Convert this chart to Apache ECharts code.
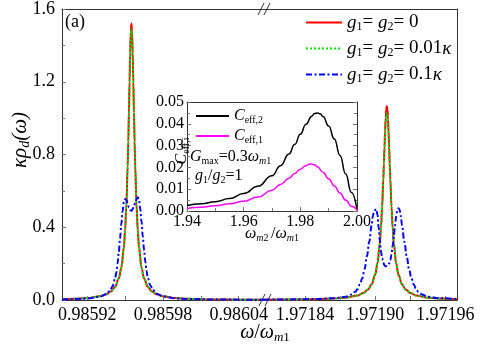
<!DOCTYPE html>
<html><head><meta charset="utf-8">
<script src="https://cdn.jsdelivr.net/npm/echarts@6/dist/echarts.min.js"></script>
<style>html,body{margin:0;padding:0;background:#fff}#c{width:490px;height:354px}</style>
</head><body><div id="c"></div>
<script>
// ---- main chart, left segment (around 0.98595)
const leftX = [0.985900,0.985910,0.985920,0.985930,0.985935,0.985939,0.985942,0.985945,0.985947,0.985949,0.985950,0.985951,0.985952,0.9859525,0.985953,0.9859535,0.985954,0.9859545,0.985955,0.9859555,0.985956,0.9859565,0.985957,0.9859575,0.985958,0.985959,0.985960,0.985961,0.985963,0.985965,0.985968,0.985971,0.985975,0.985980,0.985990,0.986000,0.986020,0.986040,0.986060];
const leftRed = [0.0042,0.0063,0.0104,0.0202,0.0313,0.0484,0.0720,0.1179,0.1765,0.288,0.383,0.524,0.734,0.872,1.030,1.199,1.358,1.476,1.520,1.476,1.358,1.199,1.030,0.872,0.734,0.524,0.383,0.288,0.1765,0.1179,0.0720,0.0484,0.0313,0.0202,0.0104,0.0063,0.0030,0.0018,0.0012];
const leftGreen = [0.0042,0.0063,0.0104,0.0202,0.0313,0.0484,0.0720,0.1179,0.1765,0.288,0.383,0.522,0.730,0.866,1.020,1.182,1.335,1.448,1.490,1.448,1.335,1.182,1.020,0.866,0.730,0.522,0.383,0.288,0.1765,0.1179,0.0720,0.0484,0.0313,0.0202,0.0104,0.0063,0.0030,0.0018,0.0012];
const leftBlueX = [0.985900,0.985910,0.985920,0.985930,0.985935,0.985938,0.985940,0.985942,0.985943,0.985944,0.985945,0.985946,0.985947,0.985948,0.985949,0.985950,0.985951,0.985952,0.985953,0.985954,0.985955,0.985956,0.985957,0.985958,0.985959,0.985960,0.985961,0.985962,0.985963,0.985964,0.985965,0.985966,0.985967,0.985968,0.985970,0.985972,0.985975,0.985980,0.985990,0.986000,0.986020,0.986040,0.986060];
const leftBlue = [0.003,0.005,0.008,0.018,0.032,0.05,0.075,0.115,0.15,0.2,0.265,0.34,0.42,0.49,0.54,0.555,0.55,0.53,0.51,0.495,0.49,0.5,0.515,0.535,0.555,0.565,0.55,0.5,0.43,0.35,0.275,0.21,0.16,0.12,0.08,0.055,0.035,0.02,0.009,0.006,0.003,0.002,0.0015];

// ---- main chart, right segment (around 1.97191)
const rightX = [1.971805,1.971825,1.971845,1.971865,1.971875,1.971885,1.971890,1.971894,1.971897,1.971900,1.971902,1.971904,1.971905,1.971906,1.971907,1.9719075,1.971908,1.9719085,1.971909,1.9719095,1.971910,1.9719105,1.971911,1.9719115,1.971912,1.9719125,1.971913,1.971914,1.971915,1.971916,1.971918,1.971920,1.971923,1.971926,1.971930,1.971935,1.971945,1.971955,1.971970];
const rightRed = [0.0014,0.0022,0.0037,0.0078,0.0128,0.0247,0.0381,0.0584,0.0860,0.1377,0.2006,0.311,0.397,0.513,0.664,0.750,0.840,0.926,1.000,1.049,1.067,1.049,1.000,0.926,0.840,0.750,0.664,0.513,0.397,0.311,0.2006,0.1377,0.0860,0.0584,0.0381,0.0247,0.0128,0.0078,0.0044];
const rightGreen = [0.0014,0.0022,0.0037,0.0078,0.0128,0.0247,0.0381,0.0584,0.0860,0.1377,0.2006,0.311,0.397,0.512,0.658,0.740,0.825,0.905,0.970,1.014,1.030,1.014,0.970,0.905,0.825,0.740,0.658,0.512,0.397,0.311,0.2006,0.1377,0.0860,0.0584,0.0381,0.0247,0.0128,0.0078,0.0044];
const rightBlueX = [1.971805,1.971825,1.971845,1.971865,1.971875,1.971880,1.971883,1.971885,1.971887,1.971889,1.971891,1.971893,1.971895,1.971897,1.971898,1.971899,1.971900,1.971901,1.971902,1.971903,1.971904,1.971905,1.971906,1.971907,1.971908,1.971909,1.971910,1.971911,1.971912,1.971913,1.971914,1.971915,1.971916,1.971917,1.971918,1.971919,1.971920,1.971921,1.971922,1.971923,1.971925,1.971927,1.971929,1.971931,1.971933,1.971935,1.971937,1.971940,1.971945,1.971955,1.971970];
const rightBlue = [0.002,0.003,0.005,0.01,0.018,0.03,0.045,0.06,0.085,0.12,0.17,0.24,0.32,0.41,0.46,0.485,0.495,0.50,0.47,0.40,0.33,0.27,0.23,0.205,0.19,0.185,0.187,0.19,0.2,0.22,0.25,0.3,0.35,0.41,0.46,0.495,0.505,0.495,0.46,0.41,0.32,0.24,0.17,0.12,0.085,0.06,0.045,0.03,0.018,0.01,0.005];

// ---- axis ticks
const leftTicks = [0.98592,0.98595,0.98598,0.98601,0.98604];
const leftLabels = [0.98592,0.98598,0.98604];
const rightTicks = [1.97184,1.97187,1.97190,1.97193,1.97196];
const rightLabels = [1.97184,1.97190,1.97196];

// ---- inset
const insetX2 = [1.940,1.945,1.950,1.955,1.960,1.965,1.970,1.973,1.976,1.978,1.980,1.982,1.984,1.985,1.986,1.987,1.988,1.990,1.992,1.994,1.996,1.998,2.000];
const insetC2 = [0.0025,0.0033,0.0043,0.0057,0.0080,0.0113,0.0162,0.0208,0.0262,0.0305,0.0352,0.0398,0.0435,0.0447,0.0450,0.0446,0.0433,0.0390,0.0330,0.0255,0.0170,0.0085,0.0005];
const insetX1 = [1.940,1.945,1.950,1.955,1.960,1.965,1.970,1.973,1.976,1.978,1.980,1.982,1.983,1.984,1.985,1.986,1.988,1.990,1.992,1.994,1.996,1.998,2.000];
const insetC1 = [0.0012,0.0017,0.0024,0.0033,0.0045,0.0064,0.0095,0.0122,0.0150,0.0172,0.0192,0.0208,0.0214,0.0216,0.0212,0.0203,0.0178,0.0148,0.0115,0.0082,0.0050,0.0022,0.0003];

const seriesNames = ['g0','g001','g01'];
const FF = '"Liberation Serif", "Times New Roman", serif';
const zip = (xs, ys) => xs.map((x, i) => [x, ys[i]]);

const subRich = (big, small, pad) => ({
  i: {fontFamily: FF, fontStyle: 'italic', fontSize: big, color: '#000'},
  t: {fontFamily: FF, fontSize: big, color: '#000'},
  s: {fontFamily: FF, fontSize: small, color: '#000', padding: [pad, 0, 0, 0]},
  si: {fontFamily: FF, fontStyle: 'italic', fontSize: small, color: '#000', padding: [pad, 0, 0, 0]}
});

const legendText = {
  g0: '{i|g}{s|1}{t|= }{i|g}{s|2}{t|= 0}',
  g001: '{i|g}{s|1}{t|= }{i|g}{s|2}{t|= 0.01}{i|κ}',
  g01: '{i|g}{s|1}{t|= }{i|g}{s|2}{t|= 0.1}{i|κ}',
  C2: '{i|C}{s|eff,2}',
  C1: '{i|C}{s|eff,1}'
};

const styles = {
  g0: {color: '#ff0000', width: 2, type: 'solid'},
  g001: {color: '#00e000', width: 2, type: [2, 2]},
  g01: {color: '#0000ff', width: 2, type: [6, 2.5, 2, 2.5]}
};

function mk(name, data, xi, yi) {
  return {
    name, type: 'line', data, xAxisIndex: xi, yAxisIndex: yi,
    symbol: 'none', smooth: 0.4, smoothMonotone: 'x',
    lineStyle: styles[name], itemStyle: {color: styles[name].color},
    clip: true, animation: false
  };
}

const tickCol = '#777';
const lineCol = '#333';
const labFont = {fontFamily: FF, fontSize: 18, color: '#000'};
const insetFont = {fontFamily: FF, fontSize: 16, color: '#000'};

const option = {
  animation: false,
  backgroundColor: '#fff',
  textStyle: {fontFamily: FF},
  grid: [
    {left: 62, top: 9, width: 202, height: 291},
    {left: 264, top: 9, width: 193, height: 291},
    {left: 187, top: 102, width: 170, height: 109, show: true, backgroundColor: '#fff', borderWidth: 0, z: 5}
  ],
  xAxis: [
    {gridIndex: 0, type: 'value', position: 'bottom', min: 0.98590, max: 0.98606,
     axisLine: {show: true, onZero: false, lineStyle: {color: lineCol, width: 1}},
     axisTick: {show: true, inside: true, length: 4, customValues: leftTicks, lineStyle: {color: tickCol}},
     axisLabel: {show: true, customValues: leftLabels, margin: 6, formatter: v => v.toFixed(5), ...labFont},
     splitLine: {show: false}},
    {gridIndex: 1, type: 'value', position: 'bottom', min: 1.971805, max: 1.97197,
     axisLine: {show: true, onZero: false, lineStyle: {color: lineCol, width: 1}},
     axisTick: {show: true, inside: true, length: 4, customValues: rightTicks, lineStyle: {color: tickCol}},
     axisLabel: {show: true, customValues: rightLabels, margin: 6, formatter: v => v.toFixed(5), ...labFont},
     splitLine: {show: false}},
    {gridIndex: 0, type: 'value', position: 'top', min: 0.98590, max: 0.98606,
     axisLine: {show: true, onZero: false, lineStyle: {color: lineCol}}, axisTick: {show: false}, axisLabel: {show: false}, splitLine: {show: false}},
    {gridIndex: 1, type: 'value', position: 'top', min: 1.971805, max: 1.97197,
     axisLine: {show: true, onZero: false, lineStyle: {color: lineCol}}, axisTick: {show: false}, axisLabel: {show: false}, splitLine: {show: false}},
    {gridIndex: 2, type: 'value', position: 'bottom', min: 1.94, max: 2.00, interval: 0.02, z: 6,
     axisLine: {show: true, onZero: false, lineStyle: {color: lineCol}},
     axisTick: {show: true, inside: true, length: 4, lineStyle: {color: tickCol}},
     minorTick: {show: true, splitNumber: 2, length: 3, lineStyle: {color: tickCol}},
     axisLabel: {show: true, margin: 3, formatter: v => v.toFixed(2), ...insetFont},
     splitLine: {show: false}},
    {gridIndex: 2, type: 'value', position: 'top', min: 1.94, max: 2.00, interval: 0.02, z: 6,
     axisLine: {show: true, onZero: false, lineStyle: {color: lineCol}}, axisTick: {show: false}, axisLabel: {show: false}, splitLine: {show: false}}
  ],
  yAxis: [
    {gridIndex: 0, type: 'value', position: 'left', min: 0, max: 1.6, interval: 0.4,
     axisLine: {show: true, onZero: false, lineStyle: {color: lineCol}},
     axisTick: {show: true, inside: true, length: 4, lineStyle: {color: tickCol}},
     minorTick: {show: true, splitNumber: 2, length: 3, lineStyle: {color: tickCol}},
     axisLabel: {show: true, margin: 7, formatter: v => v.toFixed(1), ...labFont},
     splitLine: {show: false}},
    {gridIndex: 1, type: 'value', position: 'right', min: 0, max: 1.6, interval: 0.4,
     axisLine: {show: true, onZero: false, lineStyle: {color: lineCol}}, axisTick: {show: false}, axisLabel: {show: false}, splitLine: {show: false}},
    {gridIndex: 2, type: 'value', position: 'left', min: 0, max: 0.05, interval: 0.01, z: 6,
     axisLine: {show: true, onZero: false, lineStyle: {color: lineCol}},
     axisTick: {show: true, inside: true, length: 4, lineStyle: {color: tickCol}},
     minorTick: {show: true, splitNumber: 2, length: 3, lineStyle: {color: tickCol}},
     axisLabel: {show: true, margin: 3, formatter: v => v.toFixed(2), ...insetFont},
     splitLine: {show: false}},
    {gridIndex: 2, type: 'value', position: 'right', min: 0, max: 0.05, interval: 0.01, z: 6,
     axisLine: {show: true, onZero: false, lineStyle: {color: lineCol}},
     axisTick: {show: true, inside: true, length: 4, lineStyle: {color: tickCol}},
     minorTick: {show: true, splitNumber: 2, length: 3, lineStyle: {color: tickCol}},
     axisLabel: {show: false}, splitLine: {show: false}}
  ],
  legend: [
    {data: seriesNames, orient: 'vertical', left: 300, top: 8, itemWidth: 36, itemHeight: 12, itemGap: 6,
     itemStyle: {opacity: 0}, formatter: n => legendText[n], textStyle: {rich: subRich(19, 12, 9)}, selectedMode: false},
    {data: ['C2', 'C1'], orient: 'vertical', left: 190, top: 103, itemWidth: 33, itemHeight: 10, itemGap: 3,
     itemStyle: {opacity: 0}, formatter: n => legendText[n], textStyle: {rich: subRich(16, 10, 8)}, selectedMode: false, z: 10}
  ],
  series: [
    mk('g0', zip(leftX, leftRed), 0, 0),
    mk('g001', zip(leftX, leftGreen), 0, 0),
    mk('g01', zip(leftBlueX, leftBlue), 0, 0),
    mk('g0', zip(rightX, rightRed), 1, 1),
    mk('g001', zip(rightX, rightGreen), 1, 1),
    mk('g01', zip(rightBlueX, rightBlue), 1, 1),
    {name: 'C2', type: 'line', data: zip(insetX2, insetC2), xAxisIndex: 4, yAxisIndex: 2, symbol: 'none', smooth: 0.5, smoothMonotone: 'x',
     lineStyle: {color: '#000', width: 1.5}, itemStyle: {color: '#000'}, z: 7},
    {name: 'C1', type: 'line', data: zip(insetX1, insetC1), xAxisIndex: 4, yAxisIndex: 2, symbol: 'none', smooth: 0.5, smoothMonotone: 'x',
     lineStyle: {color: '#ff00ff', width: 1.5}, itemStyle: {color: '#ff00ff'}, z: 7}
  ],
  graphic: [
    {type: 'text', left: 65, top: 13, style: {text: '(a)', font: '18px "Liberation Serif"', fill: '#000'}},
    {type: 'text', x: 20, y: 140, rotation: Math.PI / 2,
     style: {text: '{i|κρ}{si|d}{i|(ω)}', rich: subRich(21, 14, 10), align: 'center', verticalAlign: 'middle'}},
    {type: 'text', x: 265, y: 333,
     style: {text: '{i|ω}{t|/}{i|ω}{si|m}{s|1}', rich: subRich(20, 13, 10), align: 'center', verticalAlign: 'middle'}},
    {type: 'text', x: 182, y: 151, rotation: Math.PI / 2, z: 20,
     style: {text: '{i|C}{s|eff,i}', rich: subRich(16, 10, 8), align: 'center', verticalAlign: 'middle'}},
    {type: 'text', x: 272, y: 234, z: 20,
     style: {text: '{i|ω}{si|m}{s|2 }{t|/}{i|ω}{si|m}{s|1}', rich: subRich(16, 10, 8), align: 'center', verticalAlign: 'middle'}},
    {type: 'text', x: 190, y: 157, z: 20,
     style: {text: '{i|G}{s|max}{t|=0.3}{i|ω}{si|m}{s|1}', rich: subRich(16, 10, 8), align: 'left', verticalAlign: 'middle'}},
    {type: 'text', x: 195, y: 176, z: 20,
     style: {text: '{i|g}{s|1}{t|/}{i|g}{s|2}{t|=1}', rich: subRich(16, 10, 8), align: 'left', verticalAlign: 'middle'}},
    {type: 'line', shape: {x1: 258, y1: 15, x2: 264, y2: 3}, style: {stroke: '#333', lineWidth: 1}},
    {type: 'line', shape: {x1: 264, y1: 15, x2: 270, y2: 3}, style: {stroke: '#333', lineWidth: 1}},
    {type: 'line', shape: {x1: 259, y1: 306, x2: 265, y2: 294}, style: {stroke: '#333', lineWidth: 1}},
    {type: 'line', shape: {x1: 265, y1: 306, x2: 271, y2: 294}, style: {stroke: '#333', lineWidth: 1}}
  ]
};
const chart = echarts.init(document.getElementById('c'), null, {renderer: 'canvas'});
chart.setOption(option);
</script></body></html>
